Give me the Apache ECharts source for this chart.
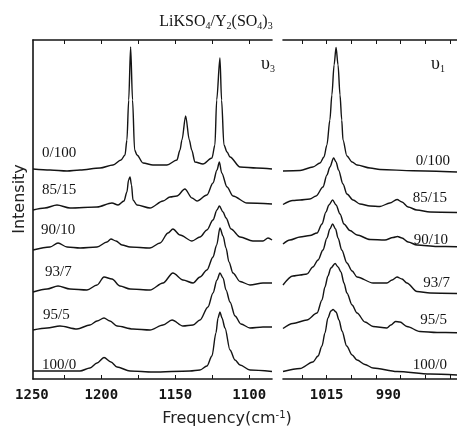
<!DOCTYPE html>
<html><head><meta charset="utf-8">
<script src="https://cdn.jsdelivr.net/npm/echarts@6/dist/echarts.min.js"></script>
<style>html,body{margin:0;padding:0;background:#fff}#c{width:457px;height:436px}</style>
</head><body><div id="c"></div>
<script>
// Sample compositions (LiKSO4 / Y2(SO4)3)
const compositions = ['0/100', '85/15', '90/10', '93/7', '95/5', '100/0'];

// ν3 region: [frequency cm-1, intensity (a.u., stacked offset included)]
const v3_0_100 = [[1246.2,210],[1234.7,209],[1223.2,208],[1214.4,209],[1200.9,211],[1192.1,214],[1186.7,219],[1184.0,224],[1182.7,239],[1181.5,279],[1180.2,332],[1178.9,279],[1177.5,229],[1175.9,224],[1171.8,216],[1165.1,214],[1155.6,214],[1148.9,219],[1146.8,229],[1145.5,239],[1143.0,263],[1140.5,239],[1138.9,229],[1136.7,217],[1131.3,215],[1125.2,221],[1123.2,234],[1122.0,279],[1119.8,321],[1118.7,279],[1117.1,234],[1115.0,227],[1113.0,222],[1106.2,212],[1095.0,211],[1084.6,210]];
const v3_85_15 = [[1246.2,169],[1238.2,171],[1230.0,174],[1221.2,171],[1202.9,172],[1192.8,176],[1188.7,174],[1184.7,178],[1182.7,187],[1181.6,199],[1180.6,202],[1179.6,194],[1178.6,179],[1175.9,174],[1167.1,171],[1158.3,178],[1153.6,182],[1148.9,183],[1143.5,190],[1138.7,181],[1135.3,178],[1128.6,184],[1124.5,196],[1121.8,209],[1120.2,217],[1118.6,206],[1115.0,192],[1111.0,183],[1101.5,176],[1084.6,175]];
const v3_90_10 = [[1246.2,129],[1234.7,132],[1229.3,136],[1223.2,132],[1214.4,131],[1202.9,132],[1196.2,137],[1193.5,140],[1190.1,138],[1186.0,134],[1180.6,132],[1167.1,131],[1160.3,136],[1154.9,146],[1151.6,150],[1146.8,144],[1138.7,138],[1133.3,142],[1128.6,149],[1124.5,159],[1121.8,169],[1120.2,173],[1117.7,167],[1115.7,161],[1112.3,150],[1106.2,142],[1097.5,138],[1090.7,138],[1087.3,141],[1084.6,139]];
const v3_93_7 = [[1246.2,87],[1236.7,90],[1229.3,93],[1221.2,90],[1209.7,89],[1202.9,94],[1198.2,102],[1192.8,100],[1187.4,93],[1180.6,90],[1167.1,89],[1158.3,96],[1151.6,106],[1144.8,99],[1138.0,96],[1133.3,102],[1128.6,109],[1124.5,122],[1122.0,134],[1119.8,151],[1117.7,143],[1115.7,131],[1113.7,117],[1111.0,106],[1106.2,97.5],[1099.5,94],[1090.7,96],[1084.6,96]];
const v3_95_5 = [[1246.2,49],[1236.7,51],[1228.0,53],[1216.5,50],[1207.7,54],[1202.9,58],[1198.2,61],[1194.2,58],[1189.4,53],[1178.6,50],[1167.1,49],[1158.3,54],[1152.2,59],[1144.8,53],[1138.0,54],[1133.3,59],[1127.9,72],[1124.5,86],[1121.8,99],[1119.8,106],[1117.7,101],[1115.7,89],[1113.0,77],[1109.6,63],[1105.6,55],[1099.5,51],[1090.7,52],[1084.6,52]];
const v3_100_0 = [[1246.2,8],[1228.0,8],[1214.4,8],[1207.7,11],[1202.9,16],[1198.2,21.5],[1193.5,17],[1189.4,12],[1180.6,8],[1165.1,7],[1140.1,8],[1133.3,9],[1128.6,13],[1125.2,23],[1122.5,46],[1121.1,61],[1119.8,67],[1118.4,61],[1116.4,51],[1113.0,29],[1109.6,19],[1106.2,14],[1099.5,9],[1084.6,7.5]];

// ν1 region
const v1_0_100 = [[1032.7,208],[1025.8,208.5],[1020.6,212],[1017.7,216],[1016.1,222],[1014.9,234],[1013.7,259],[1012.9,284],[1012.0,314],[1011.2,331.5],[1010.4,314],[1009.6,284],[1008.9,259],[1008.4,239],[1006.8,223],[1004.7,217],[1002.7,214],[997.4,211],[993.4,209.5],[980.0,208.3],[962.2,207]];
const v1_85_15 = [[1032.7,174.5],[1028.7,178.5],[1025.8,179],[1021.8,180],[1019.3,183],[1016.5,192],[1014.9,204],[1013.7,212],[1012.2,221],[1011.2,217],[1010.2,209],[1008.4,195],[1006.8,185],[1004.3,179],[1001.5,175],[997.4,173],[993.4,172.5],[989.4,176],[986.5,179.5],[984.5,177],[982.0,172],[978.5,169],[973.1,167],[962.2,166.5]];
const v1_90_10 = [[1032.7,135],[1029.9,139],[1025.8,142],[1021.8,143.5],[1018.9,146],[1016.9,155],[1015.3,167],[1014.1,174],[1012.6,179],[1011.2,174],[1009.6,165],[1008.0,155],[1005.6,148.5],[1002.7,144],[997.4,139.5],[991.4,139],[988.1,141.5],[986.3,142.5],[984.5,141],[982.0,137],[978.4,134],[970.3,132.5],[962.2,132.3]];
const v1_93_7 = [[1032.7,94],[1028.7,103],[1025.8,104],[1023.0,105],[1020.6,112],[1018.5,119],[1016.5,129],[1014.9,141],[1013.7,150],[1012.6,155],[1011.4,150],[1010.4,141],[1008.9,129],[1006.8,116],[1004.7,108],[1002.7,102],[996.2,96],[990.6,96],[988.5,99],[986.5,102],[984.5,100],[982.5,96],[978.4,87.5],[973.1,86],[962.2,85.5]];
const v1_95_5 = [[1032.7,50.5],[1028.7,55.5],[1023.0,59],[1018.9,66],[1016.9,79],[1015.7,92],[1014.5,103],[1013.3,111],[1011.6,115.5],[1010.4,112],[1009.2,107],[1008.0,96],[1006.8,86],[1004.7,74],[1002.7,66],[999.5,57],[996.2,52.5],[990.6,51],[989.0,54],[987.1,57.5],[985.3,57],[982.5,52.5],[977.2,47.5],[970.3,46.5],[962.2,46.3]];
const v1_100_0 = [[1032.7,7.5],[1025.8,10.5],[1020.6,17],[1018.5,23],[1016.9,33],[1015.7,46],[1014.5,61],[1013.3,68],[1012.4,69.5],[1011.2,67],[1010.0,59],[1008.8,48],[1006.9,33],[1004.7,24],[1002.7,19],[999.5,14.5],[996.2,11],[986.5,7.5],[973.1,5],[962.2,4]];

// Axis tick labels
const tickLabelsV3 = [1250, 1200, 1150, 1100];
const tickLabelsV1 = [1015, 990];
const tickMarksV3 = [1225, 1200, 1175, 1150, 1125, 1100];
const tickMarksV1 = [1025, 1015, 1005, 995, 985, 975, 965];

const v3Spectra = [v3_0_100, v3_85_15, v3_90_10, v3_93_7, v3_95_5, v3_100_0];
const v1Spectra = [v1_0_100, v1_85_15, v1_90_10, v1_93_7, v1_95_5, v1_100_0];

const ink = '#141414';
const lineStyle = { color: ink, width: 1.4 };
const frameLine = { show: true, lineStyle: { color: ink, width: 1.6 } };
const tickStyle = (vals) => ({ show: true, inside: true, length: 4, customValues: vals, lineStyle: { color: ink, width: 1 } });
const tickFont = { fontFamily: 'DejaVu Sans Mono', fontSize: 14, fontWeight: 'bold', color: ink };

const series = [];
v3Spectra.forEach((d, i) => series.push({
  type: 'line', name: compositions[i] + ' ν3', xAxisIndex: 0, yAxisIndex: 0, data: d,
  showSymbol: false, symbol: 'none', smooth: 0.3, smoothMonotone: 'x', lineStyle, silent: true
}));
v1Spectra.forEach((d, i) => series.push({
  type: 'line', name: compositions[i] + ' ν1', xAxisIndex: 1, yAxisIndex: 1, data: d,
  showSymbol: false, symbol: 'none', smooth: 0.3, smoothMonotone: 'x', lineStyle, silent: true
}));

const serif = '"Liberation Serif", "Times New Roman", serif';
const labelLeftPos = [[42,153],[42,190],[41,230],[45,272],[43,315],[42,365]];
const labelRightPos = [[450,161],[447,198],[448,240],[450,283],[447,320],[447,365]];
const graphic = [];
compositions.forEach((t, i) => {
  graphic.push({ type: 'text', x: labelLeftPos[i][0], y: labelLeftPos[i][1], silent: true,
    style: { text: t, font: '15px ' + serif, fill: ink, align: 'left', verticalAlign: 'middle' } });
  graphic.push({ type: 'text', x: labelRightPos[i][0], y: labelRightPos[i][1], silent: true,
    style: { text: t, font: '15px ' + serif, fill: ink, align: 'right', verticalAlign: 'middle' } });
});
const rm = { fontFamily: 'Liberation Serif', fontSize: 16, lineHeight: 18, fill: ink, color: ink, verticalAlign: 'middle' };
const rs = { fontFamily: 'Liberation Serif', fontSize: 10, lineHeight: 10, fill: ink, color: ink, verticalAlign: 'bottom' };
graphic.push({ type: 'text', x: 216, y: 22, silent: true,
  style: { text: '{m|LiKSO}{s|4}{m|/Y}{s|2}{m|(SO}{s|4}{m|)}{s|3}', align: 'center', verticalAlign: 'middle', rich: { m: rm, s: rs } } });
const rm2 = Object.assign({}, rm, { fontSize: 18, lineHeight: 20 });
graphic.push({ type: 'text', x: 268, y: 64, silent: true,
  style: { text: '{m|υ}{s|3}', align: 'center', verticalAlign: 'middle', rich: { m: rm2, s: rs } } });
graphic.push({ type: 'text', x: 438, y: 64, silent: true,
  style: { text: '{m|υ}{s|1}', align: 'center', verticalAlign: 'middle', rich: { m: rm2, s: rs } } });
graphic.push({ type: 'text', x: 20, y: 199, rotation: Math.PI / 2, silent: true,
  style: { text: 'Intensity', font: '16px "DejaVu Sans"', fill: '#222', align: 'center', verticalAlign: 'middle' } });
const sm = { fontFamily: 'DejaVu Sans', fontSize: 16, lineHeight: 18, fill: '#222', color: '#222', verticalAlign: 'middle' };
const sp = { fontFamily: 'DejaVu Sans', fontSize: 10, lineHeight: 10, fill: '#222', color: '#222', verticalAlign: 'top' };
graphic.push({ type: 'text', x: 227, y: 419, silent: true,
  style: { text: '{m|Frequency(cm}{p|-1}{m|)}', align: 'center', verticalAlign: 'middle', rich: { m: sm, p: sp } } });

const option = {
  animation: false,
  backgroundColor: '#fff',
  grid: [
    { left: 27.4, right: 185, top: 40, bottom: 57, containLabel: false, outerBoundsMode: 'none' },
    { left: 283, right: 0, top: 40, bottom: 57, containLabel: false, outerBoundsMode: 'none' },
    { left: 33, right: 185, top: 40, bottom: 57, containLabel: false, outerBoundsMode: 'none' }
  ],
  xAxis: [
    { gridIndex: 0, type: 'value', inverse: true, min: 1084.6, max: 1250,
      axisLine: { show: false }, axisTick: { show: false }, splitLine: { show: false },
      axisLabel: Object.assign({ customValues: tickLabelsV3, margin: 9,
        formatter: v => v === 1250 ? '{e|' + String(v) + '}' : String(v),
        rich: { e: Object.assign({ padding: [0, 0, 0, 9] }, tickFont) } }, tickFont) },
    { gridIndex: 1, type: 'value', inverse: true, min: 962.2, max: 1032.7,
      axisLine: frameLine, axisTick: tickStyle(tickMarksV1), splitLine: { show: false },
      axisLabel: Object.assign({ customValues: tickLabelsV1, margin: 9, formatter: v => String(v) }, tickFont) },
    { gridIndex: 1, type: 'value', position: 'top', inverse: true, min: 962.2, max: 1032.7,
      axisLine: frameLine, axisTick: tickStyle(tickMarksV1), splitLine: { show: false }, axisLabel: { show: false } },
    { gridIndex: 2, type: 'value', inverse: true, min: 1084.6, max: 1246.2,
      axisLine: frameLine, axisTick: tickStyle(tickMarksV3), splitLine: { show: false }, axisLabel: { show: false } },
    { gridIndex: 2, type: 'value', position: 'top', inverse: true, min: 1084.6, max: 1246.2,
      axisLine: frameLine, axisTick: tickStyle(tickMarksV3), splitLine: { show: false }, axisLabel: { show: false } }
  ],
  yAxis: [
    { gridIndex: 0, type: 'value', min: 0, max: 339, show: false },
    { gridIndex: 1, type: 'value', min: 0, max: 339, show: false },
    { gridIndex: 2, type: 'value', min: 0, max: 339, position: 'left',
      axisLine: frameLine, axisTick: { show: false }, axisLabel: { show: false }, splitLine: { show: false } }
  ],
  series,
  graphic
};
const chart = echarts.init(document.getElementById('c'), null, { renderer: 'canvas' });
chart.setOption(option);
</script>
</body></html>
